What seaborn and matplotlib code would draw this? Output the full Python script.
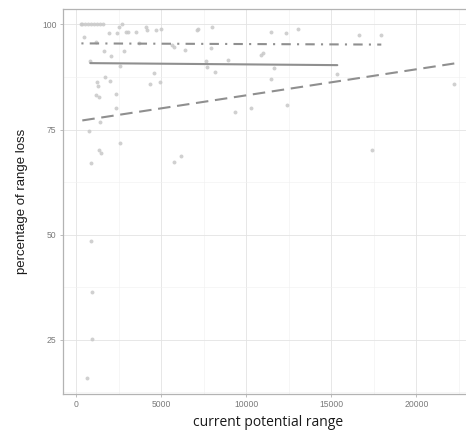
import matplotlib
matplotlib.use("Agg")
import matplotlib.pyplot as plt
from matplotlib.ticker import MultipleLocator, FixedLocator
import seaborn as sns
import pandas as pd

# ---- data ----
# group with dot-dash fit
x_a = [300, 470, 2059, 2824, 3706, 5647, 5765, 6412, 7118, 7176, 7941, 8000, 10882, 11000, 11471, 17941,
       7647, 7706]
y_a = [100, 97.1, 92.4, 93.6, 95.7, 95.0, 94.7, 94.0, 98.8, 99.0, 94.5, 99.5, 92.8, 93.1, 98.3, 97.4,
       91.2, 90.0]
# group with solid fit
x_b = [824, 1176, 1235, 1294, 1353, 1706, 1941, 2000, 2353, 2353, 2412, 2588, 2941, 3059, 3529,
       4176, 4353, 4588, 4706, 4941, 5000, 8176, 8941, 11471, 11647, 15353, 1176, 1647]
y_b = [91.4, 83.3, 86.2, 85.4, 82.8, 87.4, 97.9, 86.6, 83.5, 80.2, 97.9, 90.2, 98.3, 98.1, 98.3,
       98.6, 85.9, 88.5, 98.6, 86.2, 99.0, 88.8, 91.6, 87.1, 89.7, 88.3, 95.9, 93.8]
# group with dashed fit
x_c = [353, 529, 706, 882, 1059, 1235, 1412, 1588, 882, 941, 941, 647, 17412, 22235, 9353, 10294,
       12412, 16647, 13059, 12353, 1412, 765, 1353, 1471, 2588, 882, 5747, 6159, 2529, 2706, 4118]
y_c = [100, 100, 100, 100, 100, 100, 100, 100, 48.4, 36.3, 25.1, 16.0, 70.2, 85.9, 79.2, 80.2,
       80.9, 97.4, 99.0, 97.9, 76.8, 74.7, 70.2, 69.5, 71.8, 67.1, 67.3, 68.7, 99.5, 100, 99.3]

x_ticks = [0, 5000, 10000, 15000, 20000]
y_ticks = [25, 50, 75, 100]
x_title = "current potential range"
y_title = "percentage of range loss"

df = pd.concat([
    pd.DataFrame({"x": x_a, "y": y_a, "grp": "a"}),
    pd.DataFrame({"x": x_b, "y": y_b, "grp": "b"}),
    pd.DataFrame({"x": x_c, "y": y_c, "grp": "c"}),
], ignore_index=True)

sns.set_theme(style="white")
plt.rcParams["font.family"] = ["Liberation Sans", "DejaVu Sans"]

fig = plt.figure(figsize=(4.66, 4.32), dpi=100)
ax = fig.add_axes([62.7 / 466, 1 - 394 / 432, (474 - 62.7) / 466, (394 - 8.5) / 432])

sns.scatterplot(data=df, x="x", y="y", ax=ax, color="#c8c8c8", s=8, linewidth=0,
                alpha=0.85, legend=False, zorder=3)

line_col = "#8f8f8f"
styles = {"a": (0, (1, 3, 4.5, 3)), "b": "-", "c": (0, (6, 3.2))}
for g, ls in styles.items():
    sub = df[df["grp"] == g]
    sns.regplot(data=sub, x="x", y="y", ax=ax, scatter=False, ci=None, truncate=True,
                line_kws={"color": line_col, "linewidth": 1.5, "linestyle": ls, "zorder": 4})

ax.set_xlim(-800, 23394)
ax.set_ylim(12.1, 103.8)
ax.xaxis.set_major_locator(FixedLocator(x_ticks))
ax.yaxis.set_major_locator(FixedLocator(y_ticks))
ax.xaxis.set_minor_locator(MultipleLocator(2500))
ax.yaxis.set_minor_locator(MultipleLocator(12.5))
ax.set_xticklabels([str(v) for v in x_ticks])
ax.set_yticklabels([str(v) for v in y_ticks])

ax.grid(which="major", color="#e3e3e3", linewidth=0.6, zorder=0)
ax.grid(which="minor", color="#f0f0f0", linewidth=0.4, zorder=0)
ax.set_axisbelow(True)
for sp in ax.spines.values():
    sp.set_color("#b3b3b3")
    sp.set_linewidth(0.9)

ax.tick_params(axis="both", which="major", length=2.5, width=0.6, color="#b3b3b3",
               labelsize=6.2, labelcolor="#7a7a7a", pad=2, direction="out",
               bottom=True, left=True)
ax.tick_params(which="minor", length=0)

ax.set_xlabel(x_title, fontsize=10, color="#1a1a1a", labelpad=4, family=["Open Sans", "DejaVu Sans"])
ax.set_ylabel(y_title, fontsize=9.5, color="#1a1a1a", labelpad=10)

fig.savefig("out.png", dpi=100)
